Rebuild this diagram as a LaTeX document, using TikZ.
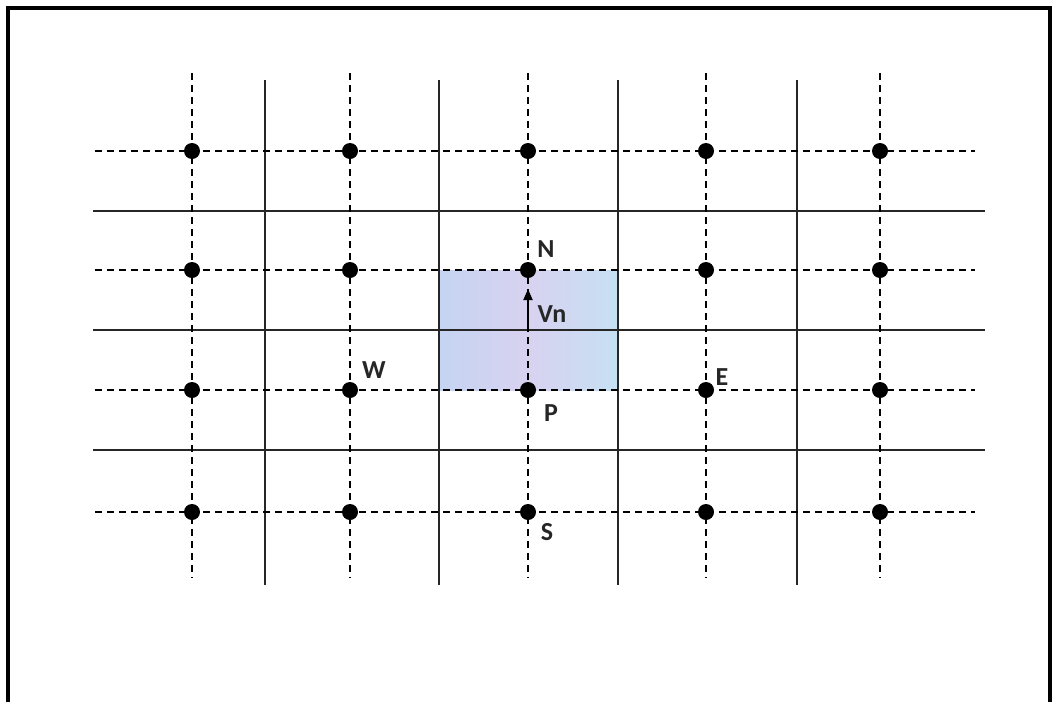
\documentclass[tikz,border=0pt]{standalone}
\usepackage{fontspec}
\setmainfont{Carlito}
\usetikzlibrary{arrows.meta}
\definecolor{cellA}{RGB}{196,212,242}
\definecolor{cellB}{RGB}{216,210,240}
\definecolor{cellC}{RGB}{198,224,242}
\tikzset{
  solidline/.style={line width=1.8pt, black!85},
  dashline/.style={line width=1.7pt, black, dash pattern=on 7pt off 5pt},
  dot/.style={circle, fill=black, inner sep=0pt, minimum size=16pt},
  lab/.style={font=\bfseries\fontsize{26}{28}\selectfont, text=black!85, inner sep=0pt},
  frame/.style={line width=3.5pt, black}
}
\begin{document}
\begin{tikzpicture}[x=1pt,y=-1pt]
\useasboundingbox (0,0) rectangle (1053,702);
% frame (bottom side outside the picture)
\draw[frame] (8,702) -- (8,8) -- (1050,8) -- (1050,702);
% shaded control volume
\shade[left color=cellA, right color=cellC, middle color=cellB] (439,270) rectangle (618,390);
% solid grid lines (cell faces)
\foreach \x in {265,439,618,797} \draw[solidline] (\x,80) -- (\x,585);
\foreach \y in {211,330,450} \draw[solidline] (93,\y) -- (985,\y);
% dashed lines through nodes
\foreach \x in {192,350,528,706,880} \draw[dashline] (\x,73) -- (\x,578);
\foreach \y in {151,270,390,512} \draw[dashline] (95,\y) -- (975,\y);
% nodes
\foreach \x [count=\i] in {192,350,528,706,880}
  \foreach \y [count=\j] in {151,270,390,512}
    \node[dot] (d\i\j) at (\x,\y) {};
% velocity arrow
\coordinate (face) at (528,330);
\coordinate (tip) at (528,289);
\draw[line width=1.8pt, -{Triangle[length=11pt,width=9pt]}] (face) -- (tip);
% labels
\node[lab] (N) at (546,249) {N};
\node[lab] (Vn) at (552,314) {Vn};
\node[lab] (W) at (374,370) {W};
\node[lab] (E) at (722,377) {E};
\node[lab] (P) at (551,413) {P};
\node[lab] (S) at (547,532) {S};
\end{tikzpicture}
\end{document}
